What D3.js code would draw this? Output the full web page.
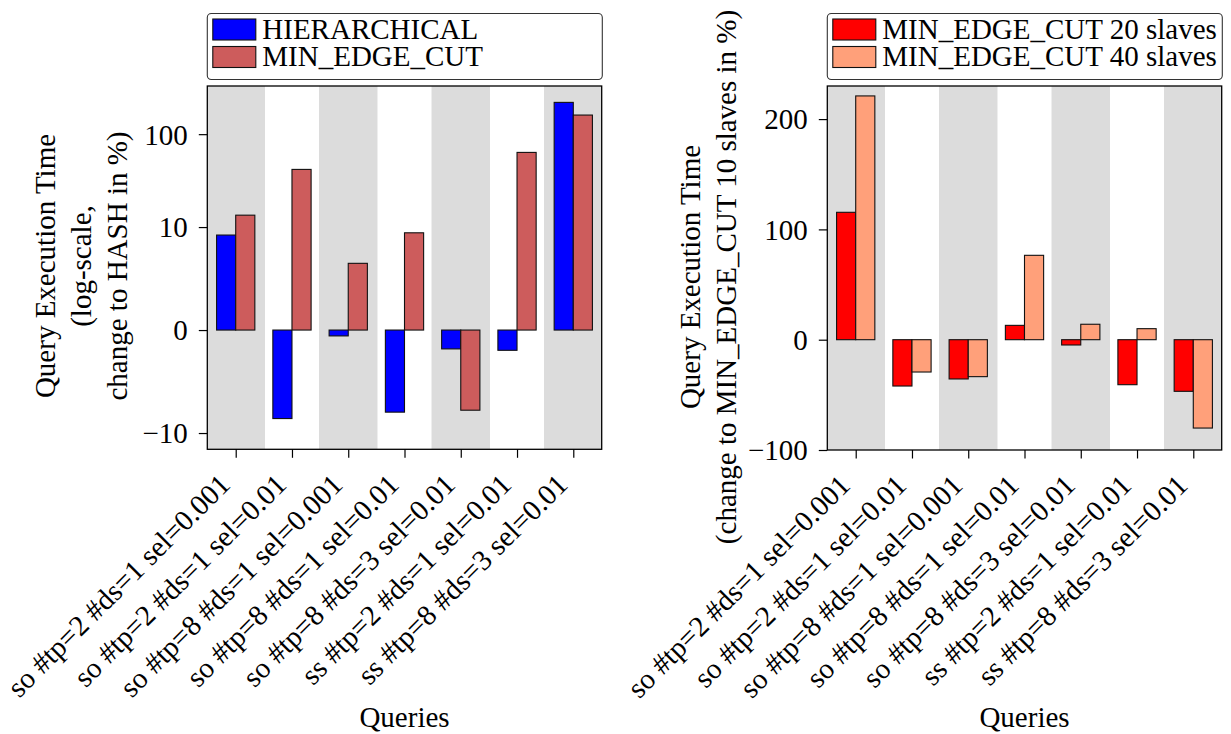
<!DOCTYPE html>
<html>
<head>
<meta charset="utf-8">
<script src="https://cdn.jsdelivr.net/npm/d3@7"></script>
<style>
  body { margin: 0; background: #fff; }
  svg text { font-family: "Liberation Serif", "Times New Roman", serif; fill: #000; }
</style>
</head>
<body>
<svg id="chart" width="1231" height="734"></svg>
<script>
// ---- data ----
const queries = [
  "so #tp=2 #ds=1 sel=0.001",
  "so #tp=2 #ds=1 sel=0.01",
  "so #tp=8 #ds=1 sel=0.001",
  "so #tp=8 #ds=1 sel=0.01",
  "so #tp=8 #ds=3 sel=0.01",
  "ss #tp=2 #ds=1 sel=0.01",
  "ss #tp=8 #ds=3 sel=0.01"
];
// left panel: change to HASH in %
const hierarchical = [8.1, -6.8, -0.14, -5.7, -0.53, -0.58, 215];
const minEdgeCut   = [13.6, 42.5, 3.66, 8.6, -5.4, 64.3, 158.5];
// right panel: change to MIN_EDGE_CUT 10 slaves in %
const slaves20 = [115.5, -42.0, -35.6, 13.0, -4.8, -40.8, -46.8];
const slaves40 = [221, -29.3, -33.5, 76.5, 14.0, 10.0, -80.1];

const leftTicks  = [-10, 0, 10, 100];
const rightTicks = [-100, 0, 100, 200];

const svg = d3.select("#chart");
const FS = 29;
const minus = v => (v < 0 ? "\u2212" + Math.abs(v) : "" + v);

function panel(o) {
  const g = svg.append("g");
  const x = d3.scaleLinear().domain([-0.505, 6.505]).range([o.x0, o.x1]);
  const y = o.y;

  const clipId = "clip" + o.id;
  g.append("clipPath").attr("id", clipId)
    .append("rect").attr("x", o.x0).attr("y", o.y1)
    .attr("width", o.x1 - o.x0).attr("height", o.y0 - o.y1);

  const plot = g.append("g").attr("clip-path", "url(#" + clipId + ")");

  // alternating background bands
  plot.selectAll("rect.band")
    .data(queries.map((q, i) => i).filter(i => i % 2 === 0))
    .join("rect")
    .attr("class", "band")
    .attr("x", i => x(i - 0.52))
    .attr("width", i => x(i + 0.52) - x(i - 0.52))
    .attr("y", o.y1).attr("height", o.y0 - o.y1)
    .attr("fill", "#dcdcdc");

  const w = 0.34;
  o.series.forEach((s, k) => {
    plot.selectAll("rect.s" + k)
      .data(s.values)
      .join("rect")
      .attr("class", "s" + k)
      .attr("x", (d, i) => x(k === 0 ? i - w : i))
      .attr("width", x(w) - x(0))
      .attr("y", d => Math.min(y(d), y(0)))
      .attr("height", d => Math.abs(y(d) - y(0)))
      .attr("fill", s.color)
      .attr("stroke", "#111")
      .attr("stroke-width", 1.1);
  });

  // y axis
  const ya = g.append("g")
    .attr("transform", "translate(" + o.x0 + ",0)")
    .call(d3.axisLeft(y).tickValues(o.ticks).tickFormat(minus).tickSize(8.5).tickPadding(11));
  ya.select(".domain").remove();
  ya.selectAll("line").attr("stroke", "#000").attr("stroke-width", 1.2);
  ya.selectAll("text").style("font-size", FS + "px")
    .style("font-family", "'Liberation Serif', serif").attr("dy", "0.34em");

  // x axis
  const xa = g.append("g")
    .attr("transform", "translate(0," + o.y0 + ")")
    .call(d3.axisBottom(x).tickValues(d3.range(queries.length)).tickFormat("").tickSize(8.5));
  xa.select(".domain").remove();
  xa.selectAll("line").attr("stroke", "#000").attr("stroke-width", 1.2);

  g.selectAll("text.qlabel")
    .data(queries)
    .join("text")
    .attr("class", "qlabel")
    .attr("text-anchor", "end")
    .attr("transform", (d, i) => "translate(" + (x(i) - 4) + "," + (o.y0 + 37) + ") rotate(-45)")
    .style("font-size", FS + "px")
    .text(d => d);

  // frame
  g.append("rect")
    .attr("x", o.x0).attr("y", o.y1)
    .attr("width", o.x1 - o.x0).attr("height", o.y0 - o.y1)
    .attr("fill", "none").attr("stroke", "#000").attr("stroke-width", 1.3);

  // axis titles
  g.append("text")
    .attr("x", (o.x0 + o.x1) / 2).attr("y", 727)
    .attr("text-anchor", "middle")
    .style("font-size", FS + "px")
    .text("Queries");

  o.ylabel.forEach((line, i) => {
    g.append("text")
      .attr("transform", "translate(" + o.ylabelX[i] + "," + o.ylabelY + ") rotate(-90)")
      .attr("text-anchor", "middle")
      .style("font-size", FS + "px")
      .text(line);
  });

  // legend
  const lg = g.append("g");
  lg.append("rect")
    .attr("x", o.x0).attr("y", 13.5)
    .attr("width", o.x1 - o.x0 + 0.6).attr("height", 66)
    .attr("rx", 4).attr("ry", 4)
    .attr("fill", "#fff").attr("stroke", "#333").attr("stroke-width", 1.1);
  o.series.forEach((s, k) => {
    lg.append("rect")
      .attr("x", o.x0 + 5.5).attr("y", 19 + k * 27.5)
      .attr("width", 43).attr("height", 21)
      .attr("fill", s.color).attr("stroke", "#111").attr("stroke-width", 1.1);
    lg.append("text")
      .attr("x", o.x0 + 55).attr("y", 38.5 + k * 27.5)
      .style("font-size", FS + "px")
      .text(s.name);
  });
}

panel({
  id: "L",
  x0: 207.3, x1: 601.7, y0: 449.3, y1: 86,
  y: d3.scaleSymlog().constant(0.93).domain([-15.2, 318.6]).range([449.3, 86]),
  ticks: leftTicks,
  series: [
    { name: "HIERARCHICAL", values: hierarchical, color: "#0000ff" },
    { name: "MIN_EDGE_CUT", values: minEdgeCut, color: "#cd5c5c" }
  ],
  ylabel: ["Query Execution Time", "(log-scale,", "change to HASH in %)"],
  ylabelX: [55, 91, 127],
  ylabelY: 266
});

panel({
  id: "R",
  x0: 827.3, x1: 1221.7, y0: 450, y1: 86,
  y: d3.scaleLinear().domain([-100, 230]).range([450, 86]),
  ticks: rightTicks,
  series: [
    { name: "MIN_EDGE_CUT 20 slaves", values: slaves20, color: "#ff0000" },
    { name: "MIN_EDGE_CUT 40 slaves", values: slaves40, color: "#ffa07a" }
  ],
  ylabel: ["Query Execution Time", "(change to MIN_EDGE_CUT 10 slaves in %)"],
  ylabelX: [700, 736],
  ylabelY: 277
});
</script>
</body>
</html>
